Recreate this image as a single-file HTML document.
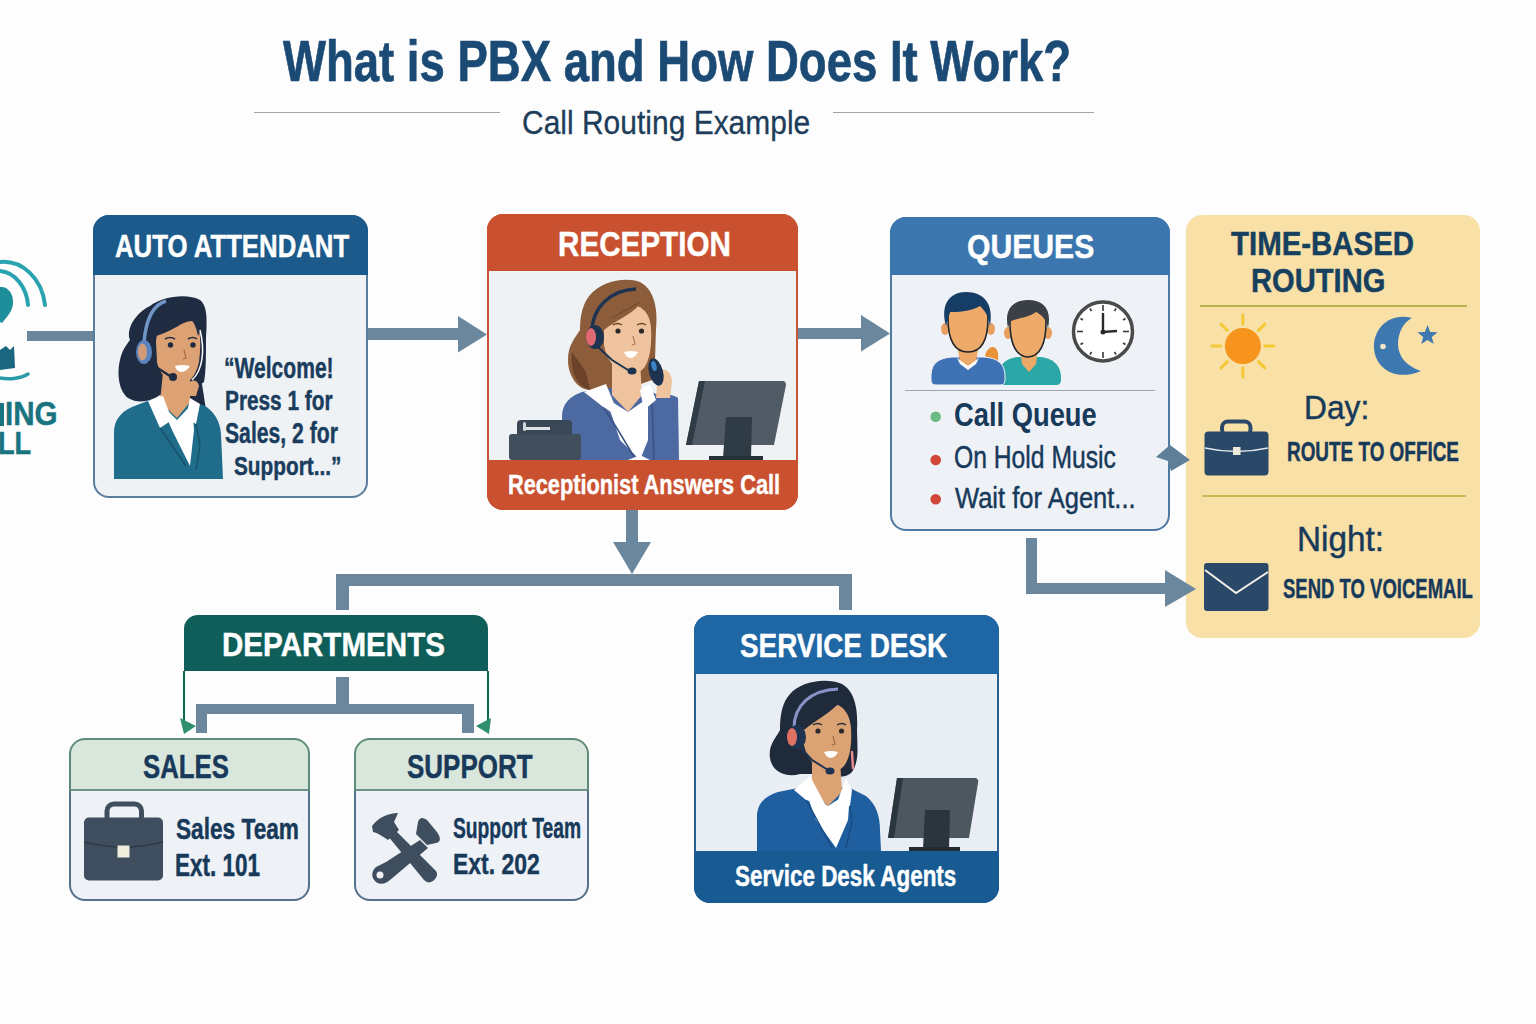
<!DOCTYPE html>
<html><head><meta charset="utf-8"><style>
html,body{margin:0;padding:0;}
body{width:1536px;height:1024px;background:#fdfdfd;position:relative;overflow:hidden;font-family:"Liberation Sans",sans-serif;}
.t{position:absolute;white-space:nowrap;transform-origin:0 0;font-family:"Liberation Sans",sans-serif;}
.r{position:absolute;}
.b{position:absolute;box-sizing:border-box;overflow:hidden;}
svg{position:absolute;left:0;top:0;}
</style></head><body>
<!-- rules -->
<div class="r" style="left:254px;top:111.5px;width:246px;height:1.5px;background:#9ea6ad;"></div>
<div class="r" style="left:0px;top:403px;width:3.5px;height:22.5px;background:#1a7480;"></div>
<div class="r" style="left:833px;top:111.5px;width:261px;height:1.5px;background:#9ea6ad;"></div>

<!-- connectors -->
<div class="r" style="left:27px;top:331px;width:66px;height:10px;background:#6a879d;"></div>
<div class="r" style="left:368px;top:328px;width:91px;height:12px;background:#6a879d;"></div>
<div class="r" style="left:798px;top:328px;width:64px;height:11px;background:#6a879d;"></div>
<div class="r" style="left:626px;top:510px;width:12px;height:33px;background:#6a879d;"></div>
<div class="r" style="left:336px;top:574px;width:516px;height:12px;background:#6a879d;"></div>
<div class="r" style="left:336px;top:574px;width:13px;height:36px;background:#6a879d;"></div>
<div class="r" style="left:839px;top:574px;width:13px;height:36px;background:#6a879d;"></div>
<div class="r" style="left:336px;top:677px;width:13px;height:28px;background:#6a879d;"></div>
<div class="r" style="left:196px;top:704px;width:278px;height:10px;background:#6a879d;"></div>
<div class="r" style="left:196px;top:704px;width:11px;height:29px;background:#6a879d;"></div>
<div class="r" style="left:462px;top:704px;width:12px;height:29px;background:#6a879d;"></div>
<div class="r" style="left:1026px;top:538px;width:11px;height:56px;background:#6a879d;"></div>
<div class="r" style="left:1026px;top:583px;width:141px;height:11px;background:#6a879d;"></div>

<!-- boxes -->
<div class="b" style="left:93px;top:215px;width:275px;height:283px;border-radius:16px;background:#5b7d9d;"><div class="r" style="left:2px;right:2px;top:60px;bottom:2px;background:#eff2f5;border-radius:0 0 14px 14px;"></div><div class="r" style="left:0px;right:0px;top:0px;height:60px;background:#1b5a8a;"></div></div>
<div class="b" style="left:487px;top:214px;width:311px;height:296px;border-radius:16px;background:#c4553a;"><div class="r" style="left:2px;right:2px;top:56.5px;bottom:50px;background:#eff2f4;"></div><div class="r" style="left:0px;right:0px;top:0px;height:56.5px;background:#c9512f;"></div><div class="r" style="left:0;right:0;bottom:0;height:50px;background:#c9512f"></div></div>
<div class="b" style="left:890px;top:217px;width:280px;height:314px;border-radius:16px;background:#4f7aa3;"><div class="r" style="left:2px;right:2px;top:57.5px;bottom:2px;background:#eef2f6;border-radius:0 0 14px 14px;"></div><div class="r" style="left:0px;right:0px;top:0px;height:57.5px;background:#3b77ae;"></div></div>
<div class="b" style="left:1186px;top:215px;width:294px;height:423px;border-radius:16px;background:#f8e0a7;"></div>
<div class="b" style="left:184px;top:615px;width:304px;height:56px;border-radius:14px;background:#0f5e5a;border-bottom-left-radius:0;border-bottom-right-radius:0;"></div>
<div class="r" style="left:183px;top:671px;width:2px;height:51px;background:#0f6a55;"></div>
<div class="r" style="left:487px;top:671px;width:2px;height:51px;background:#0f6a55;"></div>
<div class="b" style="left:694px;top:615px;width:305px;height:288px;border-radius:16px;background:#2a5f8f;"><div class="r" style="left:2px;right:2px;top:58.5px;bottom:52px;background:#e9eef4;"></div><div class="r" style="left:0px;right:0px;top:0px;height:58.5px;background:#1f66a4;"></div><div class="r" style="left:0;right:0;bottom:0;height:52px;background:#185b92"></div></div>
<div class="b" style="left:69px;top:738px;width:241px;height:163px;border-radius:16px;background:linear-gradient(#5f8a78 0 53px,#55708a 53px);"><div class="r" style="left:2px;right:2px;top:52.5px;bottom:2px;background:#eef2f6;border-radius:0 0 14px 14px;"></div><div class="r" style="left:2px;right:2px;top:2px;height:50.5px;background:#d9e6dc;border-bottom:2px solid #6d9383;box-sizing:border-box;border-radius:14px 14px 0 0;"></div></div>
<div class="b" style="left:354px;top:738px;width:235px;height:163px;border-radius:16px;background:linear-gradient(#5f8a78 0 53px,#55708a 53px);"><div class="r" style="left:2px;right:2px;top:52.5px;bottom:2px;background:#eef2f6;border-radius:0 0 14px 14px;"></div><div class="r" style="left:2px;right:2px;top:2px;height:50.5px;background:#d9e6dc;border-bottom:2px solid #6d9383;box-sizing:border-box;border-radius:14px 14px 0 0;"></div></div>

<div class="r" style="left:905px;top:389.5px;width:250px;height:1.5px;background:#9aa7b3;"></div>
<div class="r" style="left:1199.5px;top:304.5px;width:267.0px;height:2.0px;background:#b9b34a;"></div>
<div class="r" style="left:1201.5px;top:495px;width:264.0px;height:2px;background:#c4bd55;"></div>
<svg width="1536" height="1024" viewBox="0 0 1536 1024">
<polygon points="458,316 487,334.5 458,352.5" fill="#6a879d"/>
<polygon points="861,315 890,333.5 861,351.5" fill="#6a879d"/>
<polygon points="613,542 651,542 632,574" fill="#6a879d"/>
<polygon points="1165,570 1196,589 1165,607" fill="#6a879d"/>
<polygon points="1156,457 1170,445 1190,460 1171,471 1168,461" fill="#5f7f98"/>
<circle cx="935.7" cy="416.7" r="5.3" fill="#6dbb85"/>
<circle cx="935.7" cy="460" r="5.3" fill="#d0473a"/>
<circle cx="935.7" cy="499.3" r="5.3" fill="#d0473a"/>
<polygon points="180,718 196,726 184,734" fill="#2e8f6e"/>
<polygon points="491,718 476,726 489,734" fill="#2e8f6e"/>

<g id="w1">
<!-- hair back -->
<path d="M150,306 C162,296 188,293 200,300 C208,306 207,322 206,340 C206,356 206,372 204,382 L190,392 L160,395 C150,402 138,404 128,398 C118,390 117,372 120,360 C122,350 127,344 130,340 C126,330 134,314 150,306 Z" fill="#1e2b40"/>
<!-- phone hand / sleeve right -->
<path d="M186,388 C190,380 198,378 202,384 L206,410 L188,412 Z" fill="#1e2b40"/>
<path d="M188,384 C192,378 198,380 199,386 L196,396 L189,396 Z" fill="#dca273"/>
<!-- jacket -->
<path d="M114,479 L114,432 C114,420 121,412 132,407 L150,400 L186,401 L203,405 C213,410 220,420 221,434 L223,479 Z" fill="#1f6d8b"/>
<!-- neck -->
<path d="M163,372 L190,372 L190,402 L177,418 L160,402 Z" fill="#dca273"/>
<!-- shirt -->
<path d="M161,404 L177,420 L192,404 L194,430 L190,466 L172,430 Z" fill="#ffffff"/>
<!-- collars -->
<path d="M148,401 L163,396 L172,420 L160,428 Z" fill="#ffffff"/>
<path d="M190,398 L200,404 L196,424 L186,418 Z" fill="#ffffff"/>
<!-- lapel lines -->
<path d="M160,428 L175,450 L186,466" stroke="#17526b" stroke-width="1.5" fill="none"/>
<path d="M196,424 L200,445 L196,470" stroke="#17526b" stroke-width="1.5" fill="none"/>
<!-- face -->
<path d="M156,342 C156,332 162,328 170,327 C180,326 190,318 196,322 C201,328 201,348 199,362 C196,376 189,384 180,384 C168,384 159,373 157,362 Z" fill="#dca273"/>
<!-- bangs -->
<path d="M152,330 C158,312 176,304 192,306 C200,308 203,316 202,326 L198,336 C196,326 193,320 189,318 C180,326 168,332 156,336 Z" fill="#1e2b40"/>
<!-- eyes -->
<circle cx="170.5" cy="345" r="2.7" fill="#1e2b40"/>
<circle cx="193" cy="345" r="2.7" fill="#1e2b40"/>
<path d="M165,339 Q170,336 175,339" stroke="#1e2b40" stroke-width="1.5" fill="none"/>
<path d="M188,339 Q193,336 197,339" stroke="#1e2b40" stroke-width="1.5" fill="none"/>
<path d="M184,350 L186,358 L183,359" stroke="#a86a40" stroke-width="1.2" fill="none"/>
<path d="M175,366 Q182,364 190,366 Q186,372 181,372 Q176,371 175,366 Z" fill="#ffffff"/>
<!-- headset -->
<path d="M144,342 C146,320 152,305 166,301" stroke="#6f96c6" stroke-width="3.5" fill="none"/>
<ellipse cx="144" cy="352" rx="8" ry="12" fill="#5a84bd"/>
<ellipse cx="142.5" cy="352" rx="4.5" ry="8.5" fill="#d19a78"/>
<path d="M148,362 L170,376" stroke="#1e2b40" stroke-width="2.5" fill="none"/>
<circle cx="173" cy="377" r="4" fill="#1e2b40"/>
<path d="M200,330 C205,350 203,370 192,380" stroke="#ffffff" stroke-width="1.5" fill="none"/>
</g>
<g id="w2">
<!-- hair back -->
<path d="M590,295 C600,282 625,276 640,282 C655,290 658,310 656,330 C655,350 656,365 652,380 L630,388 L590,390 C578,390 568,376 568,360 C568,345 575,338 580,330 C580,315 583,303 590,295 Z" fill="#8d5d3b"/>
<path d="M572,352 C570,370 576,386 590,390 L586,372 Z" fill="#6b4229"/>
<!-- jacket -->
<path d="M562,460 L562,416 C562,404 570,396 582,392 L606,388 L648,390 L660,396 L664,460 Z" fill="#4c6aa1"/>
<!-- raised arm sleeve -->
<path d="M650,396 C658,392 672,394 678,398 L679,460 L652,460 Z" fill="#4c6aa1"/>
<path d="M652,400 L654,460" stroke="#3a5283" stroke-width="1.5"/>
<!-- neck -->
<path d="M612,362 L640,362 L642,395 L628,412 L612,395 Z" fill="#eec39d"/>
<!-- shirt -->
<path d="M606,398 L628,412 L648,398 L648,440 L640,460 L620,440 Z" fill="#ffffff"/>
<path d="M584,392 L606,384 L620,418 L602,406 Z" fill="#ffffff"/>
<path d="M640,390 L650,384 L656,400 L644,410 Z" fill="#ffffff"/>
<path d="M604,408 L618,430 L636,460" stroke="#3a5283" stroke-width="1.5" fill="none"/>
<path d="M628,460 L640,455 L650,460 Z" fill="#ffffff"/>
<!-- hand -->
<path d="M658,372 C664,366 672,372 672,382 L670,398 L656,398 Z" fill="#eec39d"/>
<!-- face -->
<path d="M604,330 C604,316 612,308 624,306 C640,302 650,312 651,328 C652,345 650,360 644,368 C638,374 632,375 626,373 C614,370 606,358 604,345 Z" fill="#eec39d"/>
<!-- bangs -->
<path d="M598,322 C604,296 626,284 646,292 C654,298 656,310 652,322 C648,312 644,306 640,304 C630,316 616,320 604,330 Z" fill="#8d5d3b"/>
<path d="M612,318 C622,312 634,306 640,302" stroke="#6b4229" stroke-width="1" fill="none"/>
<!-- eyes -->
<circle cx="618" cy="331" r="2.6" fill="#2a2a2a"/>
<circle cx="641.5" cy="331" r="2.6" fill="#2a2a2a"/>
<path d="M613,325 Q618,322 622,325" stroke="#6b4229" stroke-width="1.3" fill="none"/>
<path d="M637,325 Q642,322 646,325" stroke="#6b4229" stroke-width="1.3" fill="none"/>
<path d="M633,336 L635,344 L632,345" stroke="#b57d55" stroke-width="1.2" fill="none"/>
<path d="M624,352 Q631,350 638,352 Q635,358 630,358 Q626,357 624,352 Z" fill="#ffffff"/>
<!-- headset -->
<path d="M592,332 C592,308 610,290 636,289" stroke="#1d3350" stroke-width="3.5" fill="none"/>
<ellipse cx="595" cy="337" rx="9" ry="12" fill="#1d3350"/>
<ellipse cx="591" cy="337" rx="5" ry="9" fill="#e06a74"/>
<path d="M598,347 L612,360 L628,370" stroke="#1d3350" stroke-width="2" fill="none"/>
<ellipse cx="632" cy="371" rx="4.5" ry="3.5" fill="#1d3350"/>
<!-- handset -->
<ellipse cx="656" cy="372" rx="7" ry="14" transform="rotate(-15 656 372)" fill="#1d3350"/>
<ellipse cx="654" cy="366" rx="2.5" ry="5" transform="rotate(-15 654 366)" fill="#3c86c8"/>
<!-- desk phone -->
<rect x="517" y="420" width="55" height="18" rx="4" fill="#3a4754"/>
<rect x="525" y="427" width="25" height="3" fill="#dfe4e8"/>
<rect x="523" y="422" width="3" height="9" rx="1.5" fill="#cfd6dc"/>
<rect x="509" y="434" width="72" height="26" rx="3" fill="#414f5c"/>
<!-- monitor -->
<path d="M699,381 L783,381 C785,381 786,383 786,385 L774,445 L686,445 Z" fill="#505b65"/>
<path d="M699,381 L705,381 L692,445 L686,445 Z" fill="#2f3b45"/>
<path d="M726,417 L752,417 L751,458 L723,458 Z" fill="#2f3b45"/>
<rect x="709" y="456" width="54" height="4" fill="#26313a"/>
</g>
<g id="w3">
<!-- hair -->
<path d="M790,694 C800,682 825,677 842,684 C856,692 858,712 857,730 C857,745 860,760 852,772 C846,778 836,778 826,774 L800,774 C786,778 772,772 770,758 C768,745 776,738 780,730 C780,715 782,703 790,694 Z" fill="#1f2b3b"/>
<!-- jacket -->
<path d="M757,851 L757,815 C758,802 766,796 778,792 L808,786 L850,788 L866,796 C876,804 880,816 880,830 L881,851 Z" fill="#1f5fa0"/>
<!-- neck -->
<path d="M812,760 L840,760 L842,792 L828,806 L812,792 Z" fill="#dba274"/>
<!-- shirt -->
<path d="M806,792 L828,806 L850,792 L848,820 L836,848 L816,820 Z" fill="#ffffff"/>
<path d="M794,790 L810,776 L826,806 L806,800 Z" fill="#ffffff"/>
<path d="M838,800 L846,778 L852,790 L850,806 Z" fill="#ffffff"/>
<path d="M806,800 L816,818 L832,848" stroke="#194d85" stroke-width="1.5" fill="none"/>
<path d="M850,806 L852,822 L846,848" stroke="#194d85" stroke-width="1.5" fill="none"/>
<!-- face -->
<path d="M803,728 C803,714 812,707 824,704 C840,700 850,712 851,728 C852,745 850,758 844,766 C838,772 832,773 826,771 C814,768 806,756 804,745 Z" fill="#dba274"/>
<path d="M798,720 C804,696 826,684 846,692 C854,698 856,712 852,724 C849,712 846,704 842,700 C832,712 816,720 804,730 Z" fill="#1f2b3b"/>
<!-- eyes -->
<circle cx="818" cy="731" r="2.6" fill="#2a2a2a"/>
<circle cx="841.5" cy="731" r="2.6" fill="#2a2a2a"/>
<path d="M813,725 Q818,722 822,725" stroke="#1f2b3b" stroke-width="1.3" fill="none"/>
<path d="M837,725 Q842,722 846,725" stroke="#1f2b3b" stroke-width="1.3" fill="none"/>
<path d="M833,736 L835,744 L832,745" stroke="#a86a40" stroke-width="1.2" fill="none"/>
<path d="M824,752 Q831,750 838,752 Q835,758 830,758 Q826,757 824,752 Z" fill="#ffffff"/>
<!-- headset -->
<path d="M794,728 C794,706 810,690 838,689" stroke="#8b92c9" stroke-width="3" fill="none"/>
<ellipse cx="797" cy="737" rx="9" ry="12" fill="#1d3350"/>
<ellipse cx="792" cy="737" rx="5" ry="9" fill="#e07262"/>
<path d="M800,747 L812,760 L828,770" stroke="#1d3350" stroke-width="2" fill="none"/>
<ellipse cx="830" cy="771" rx="4.5" ry="3.5" fill="#1d3350"/>
<path d="M852,752 L853,768" stroke="#e88a90" stroke-width="2.5" stroke-linecap="round"/>
<!-- monitor -->
<path d="M897,778 L975,778 C977,778 979,780 978,783 L969,838 L888,838 Z" fill="#4d575f"/>
<path d="M897,778 L903,778 L894,838 L888,838 Z" fill="#2b353d"/>
<path d="M925,810 L950,810 L949,849 L923,849 Z" fill="#2b353d"/>
<rect x="909" y="847" width="51" height="4" fill="#232c33"/>
</g>
<g id="q">
<!-- person 2 (behind) -->
<path d="M1003,385 Q999,385 999,380 L999,374 C1000,362 1008,358 1018,357 L1040,357 C1052,358 1060,364 1061,376 L1061,380 Q1061,385 1056,385 Z" fill="#2aa7a6"/>
<path d="M1020,350 L1038,350 L1036,364 L1029,372 L1022,364 Z" fill="#eba866"/>
<ellipse cx="1008" cy="333" rx="4" ry="6" fill="#e8a060"/>
<ellipse cx="1048" cy="333" rx="4" ry="6" fill="#e8a060"/>
<path d="M1010,322 C1010,340 1014,356 1028,357 C1042,356 1046,340 1046,322 C1046,312 1040,306 1028,306 C1016,306 1010,312 1010,322 Z" fill="#eeaa68" stroke="#1f262c" stroke-width="1.6"/>
<path d="M1008,328 C1004,310 1012,300 1028,300 C1044,300 1052,310 1048,328 C1046,318 1040,314 1036,312 C1028,318 1016,318 1010,322 Z" fill="#3b4046"/>
<!-- orange small shape -->
<path d="M985,355 C990,342 1000,346 998,360 L990,370 Z" fill="#e8923a"/>
<!-- person 1 -->
<path d="M936,385 Q931,385 931,380 L931,374 C932,362 940,358 952,357 L984,357 C998,358 1005,364 1005,376 L1005,380 Q1005,385 1000,385 Z" fill="#3f72b5" stroke="#eef2f6" stroke-width="1"/>
<path d="M958,350 L978,350 L976,362 L968,368 L960,362 Z" fill="#eba866"/>
<path d="M957,358 L968,366 L979,358 L976,364 L968,370 L960,364 Z" fill="#ffffff"/>
<ellipse cx="945" cy="329" rx="4" ry="6" fill="#e8a060"/>
<ellipse cx="991" cy="329" rx="4" ry="6" fill="#e8a060"/>
<path d="M948,318 C948,336 952,352 968,352 C984,352 988,336 988,318 C988,306 980,300 968,300 C956,300 948,306 948,318 Z" fill="#eeaa68" stroke="#1f262c" stroke-width="1.6"/>
<path d="M946,326 C940,304 950,292 966,292 C984,292 994,304 990,326 C988,314 984,310 980,306 C970,312 956,312 950,312 Z" fill="#153d66"/>
<!-- clock -->
<circle cx="1103" cy="331.5" r="29.5" fill="#ffffff" stroke="#4a4a4a" stroke-width="3.5"/>
<g stroke="#3a3a3a" stroke-width="1.6">
<line x1="1103" y1="305" x2="1103" y2="311"/><line x1="1103" y1="352" x2="1103" y2="358"/>
<line x1="1077" y1="331.5" x2="1083" y2="331.5"/><line x1="1123" y1="331.5" x2="1129" y2="331.5"/>
<line x1="1116" y1="308.5" x2="1114.5" y2="311"/><line x1="1125.5" y1="318.5" x2="1123" y2="320"/>
<line x1="1125.5" y1="344.5" x2="1123" y2="343"/><line x1="1116" y1="354.5" x2="1114.5" y2="352"/>
<line x1="1090" y1="354.5" x2="1091.5" y2="352"/><line x1="1080.5" y1="344.5" x2="1083" y2="343"/>
<line x1="1080.5" y1="318.5" x2="1083" y2="320"/><line x1="1090" y1="308.5" x2="1091.5" y2="311"/>
</g>
<path d="M1103,313 L1103,332 L1117,331" stroke="#2a2a2a" stroke-width="2.4" fill="none"/>
<circle cx="1103" cy="332" r="2.5" fill="#2a2a2a"/>
</g>
<g id="ti">
<line x1="1264.9" y1="346.0" x2="1273.9" y2="346.0" stroke="#f3c935" stroke-width="3" stroke-linecap="round"/><line x1="1258.5" y1="361.6" x2="1264.8" y2="367.9" stroke="#f3c935" stroke-width="3" stroke-linecap="round"/><line x1="1242.9" y1="368.0" x2="1242.9" y2="377.0" stroke="#f3c935" stroke-width="3" stroke-linecap="round"/><line x1="1227.3" y1="361.6" x2="1221.0" y2="367.9" stroke="#f3c935" stroke-width="3" stroke-linecap="round"/><line x1="1220.9" y1="346.0" x2="1211.9" y2="346.0" stroke="#f3c935" stroke-width="3" stroke-linecap="round"/><line x1="1227.3" y1="330.4" x2="1221.0" y2="324.1" stroke="#f3c935" stroke-width="3" stroke-linecap="round"/><line x1="1242.9" y1="324.0" x2="1242.9" y2="315.0" stroke="#f3c935" stroke-width="3" stroke-linecap="round"/><line x1="1258.5" y1="330.4" x2="1264.8" y2="324.1" stroke="#f3c935" stroke-width="3" stroke-linecap="round"/>
<circle cx="1242.9" cy="346" r="18" fill="#f7941d"/>
<path d="M1412,318 C1390,312 1373,328 1374,348 C1375,368 1395,382 1421,371 C1406,366 1398,356 1398,344 C1398,332 1404,322 1412,318 Z" fill="#3d78b0"/>
<circle cx="1383" cy="346.5" r="2.8" fill="#f3e6c6"/>
<polygon points="1427.5,325.0 1430.1,331.9 1437.5,332.3 1431.8,336.9 1433.7,344.0 1427.5,340.0 1421.3,344.0 1423.2,336.9 1417.5,332.3 1424.9,331.9" fill="#3d78b0"/>
<!-- day briefcase -->
<rect x="1222" y="421.5" width="28.5" height="14" rx="6" fill="none" stroke="#2a4868" stroke-width="4"/>
<rect x="1204.5" y="431.5" width="64" height="44" rx="4" fill="#2a4868"/>
<path d="M1205,448 Q1236.5,455 1268,448" stroke="#dfe6ee" stroke-width="1.3" fill="none"/>
<rect x="1233" y="447" width="7.5" height="8" fill="#eeeadb"/>
<!-- envelope -->
<rect x="1204" y="563" width="64.5" height="48" rx="3" fill="#2a4868"/>
<path d="M1205,570 L1236,593 L1268,572" stroke="#f5f0e6" stroke-width="2" fill="none"/>
</g>
<g id="di">
<rect x="107" y="804" width="34.5" height="20" rx="7" fill="none" stroke="#3e4e5e" stroke-width="5"/>
<rect x="84" y="817.5" width="79" height="63" rx="5" fill="#3e4e5e"/>
<path d="M84,842 Q123.5,852 163,842" stroke="#2d3a47" stroke-width="1.5" fill="none"/>
<rect x="117.5" y="845.5" width="12" height="12" fill="#efeedc"/>
<!-- tools -->
<path d="M383,830 L389,824 L436,871 C438,874 437,878 433,881 C430,883 427,883 424,880 Z" fill="#3e4e5e"/>
<path d="M372,826 C378,818 388,813 398,813 L394,822 L399,830 L388,840 C382,836 378,833 373,832 Z" fill="#3e4e5e"/>
<path d="M420,840 L428,848 L390,880 C386,884 380,885 376,882 C371,878 371,871 376,867 L386,862 Z" fill="#3e4e5e"/>
<path d="M418,822 C420,816 424,818 427,820 L437,832 C441,838 441,842 436,843 L427,845 L416,834 Z" fill="#3e4e5e"/>
<circle cx="380" cy="875" r="3.5" fill="#eef2f6"/>
</g>
<g id="inc">
<path d="M0,262 C22,260 42,278 45,305" stroke="#2aa3b0" stroke-width="4" fill="none" stroke-linecap="round"/>
<path d="M0,271 C15,272 27,288 28,305" stroke="#2aa3b0" stroke-width="4" fill="none" stroke-linecap="round"/>
<path d="M0,287 C8,286 14,294 13,304 C12,312 6,318 2,323 L0,322 Z" fill="#1d8f9b"/>
<path d="M0,350 L6,346 L10,350 L14,346 L15,368 L0,370 Z" fill="#1b6780"/>
<path d="M0,378 C10,380 22,378 28,374" stroke="#2a9aa8" stroke-width="3.5" fill="none" stroke-linecap="round"/>
</g>
</svg>
<div class="t" style="left:282.5px;top:32.6px;font-size:57.25px;line-height:57.25px;font-weight:700;color:#1b4b75;-webkit-text-stroke:0.7px #1b4b75;transform:scaleX(0.795)">What is PBX and How Does It Work?</div>
<div class="t" style="left:521.7px;top:105.8px;font-size:33.62px;line-height:33.62px;font-weight:400;color:#1d3d5a;-webkit-text-stroke:0.3px #1d3d5a;transform:scaleX(0.892)">Call Routing Example</div>
<div class="t" style="left:5.3px;top:397.9px;font-size:32.61px;line-height:32.61px;font-weight:700;color:#1a7480;-webkit-text-stroke:0.45px #1a7480;transform:scaleX(0.907)">ING</div>
<div class="t" style="left:-2.4px;top:428.1px;font-size:31.30px;line-height:31.30px;font-weight:700;color:#1a7480;-webkit-text-stroke:0.45px #1a7480;transform:scaleX(0.869)">LL</div>
<div class="t" style="left:114.9px;top:231.3px;font-size:31.30px;line-height:31.30px;font-weight:700;color:#ffffff;-webkit-text-stroke:0.45px #ffffff;transform:scaleX(0.823)">AUTO ATTENDANT</div>
<div class="t" style="left:557.9px;top:227.3px;font-size:34.20px;line-height:34.20px;font-weight:700;color:#ffffff;-webkit-text-stroke:0.45px #ffffff;transform:scaleX(0.867)">RECEPTION</div>
<div class="t" style="left:967.0px;top:229.5px;font-size:33.19px;line-height:33.19px;font-weight:700;color:#ffffff;-webkit-text-stroke:0.45px #ffffff;transform:scaleX(0.909)">QUEUES</div>
<div class="t" style="left:1230.7px;top:227.1px;font-size:33.04px;line-height:33.04px;font-weight:700;color:#17405f;-webkit-text-stroke:0.45px #17405f;transform:scaleX(0.891)">TIME-BASED</div>
<div class="t" style="left:1250.7px;top:264.9px;font-size:32.90px;line-height:32.90px;font-weight:700;color:#17405f;-webkit-text-stroke:0.45px #17405f;transform:scaleX(0.886)">ROUTING</div>
<div class="t" style="left:222.4px;top:627.8px;font-size:33.48px;line-height:33.48px;font-weight:700;color:#ffffff;-webkit-text-stroke:0.45px #ffffff;transform:scaleX(0.884)">DEPARTMENTS</div>
<div class="t" style="left:739.7px;top:627.9px;font-size:34.06px;line-height:34.06px;font-weight:700;color:#ffffff;-webkit-text-stroke:0.45px #ffffff;transform:scaleX(0.819)">SERVICE DESK</div>
<div class="t" style="left:143.4px;top:751.0px;font-size:32.46px;line-height:32.46px;font-weight:700;color:#18395a;-webkit-text-stroke:0.45px #18395a;transform:scaleX(0.794)">SALES</div>
<div class="t" style="left:406.7px;top:751.0px;font-size:32.46px;line-height:32.46px;font-weight:700;color:#18395a;-webkit-text-stroke:0.45px #18395a;transform:scaleX(0.800)">SUPPORT</div>
<div class="t" style="left:224.4px;top:354.4px;font-size:29.13px;line-height:29.13px;font-weight:700;color:#1a3d5e;-webkit-text-stroke:0.45px #1a3d5e;transform:scaleX(0.723)">“Welcome!</div>
<div class="t" style="left:224.6px;top:387.4px;font-size:27.68px;line-height:27.68px;font-weight:700;color:#1a3d5e;-webkit-text-stroke:0.45px #1a3d5e;transform:scaleX(0.752)">Press 1 for</div>
<div class="t" style="left:225.4px;top:419.3px;font-size:28.84px;line-height:28.84px;font-weight:700;color:#1a3d5e;-webkit-text-stroke:0.45px #1a3d5e;transform:scaleX(0.734)">Sales, 2 for</div>
<div class="t" style="left:234.2px;top:454.0px;font-size:25.80px;line-height:25.80px;font-weight:700;color:#1a3d5e;-webkit-text-stroke:0.45px #1a3d5e;transform:scaleX(0.806)">Support...”</div>
<div class="t" style="left:508.4px;top:471.0px;font-size:28.12px;line-height:28.12px;font-weight:700;color:#ffffff;-webkit-text-stroke:0.45px #ffffff;transform:scaleX(0.773)">Receptionist Answers Call</div>
<div class="t" style="left:954.1px;top:398.3px;font-size:33.62px;line-height:33.62px;font-weight:700;color:#17395a;-webkit-text-stroke:0px #17395a;transform:scaleX(0.813)">Call Queue</div>
<div class="t" style="left:954.1px;top:442.9px;font-size:30.87px;line-height:30.87px;font-weight:400;color:#17395a;-webkit-text-stroke:0.45px #17395a;transform:scaleX(0.800)">On Hold Music</div>
<div class="t" style="left:955.1px;top:483.4px;font-size:29.42px;line-height:29.42px;font-weight:400;color:#17395a;-webkit-text-stroke:0.45px #17395a;transform:scaleX(0.868)">Wait for Agent...</div>
<div class="t" style="left:1303.5px;top:391.1px;font-size:33.91px;line-height:33.91px;font-weight:400;color:#17395a;-webkit-text-stroke:0.45px #17395a;transform:scaleX(0.935)">Day:</div>
<div class="t" style="left:1287.3px;top:437.9px;font-size:27.25px;line-height:27.25px;font-weight:700;color:#17395a;-webkit-text-stroke:0.45px #17395a;transform:scaleX(0.694)">ROUTE TO OFFICE</div>
<div class="t" style="left:1297.0px;top:522.2px;font-size:35.65px;line-height:35.65px;font-weight:400;color:#17395a;-webkit-text-stroke:0.45px #17395a;transform:scaleX(0.935)">Night:</div>
<div class="t" style="left:1283.2px;top:575.0px;font-size:27.25px;line-height:27.25px;font-weight:700;color:#17395a;-webkit-text-stroke:0.45px #17395a;transform:scaleX(0.679)">SEND TO VOICEMAIL</div>
<div class="t" style="left:175.6px;top:813.7px;font-size:30.14px;line-height:30.14px;font-weight:700;color:#17395a;-webkit-text-stroke:0.45px #17395a;transform:scaleX(0.752)">Sales Team</div>
<div class="t" style="left:175.2px;top:849.7px;font-size:30.58px;line-height:30.58px;font-weight:700;color:#17395a;-webkit-text-stroke:0.45px #17395a;transform:scaleX(0.736)">Ext. 101</div>
<div class="t" style="left:453.1px;top:813.1px;font-size:29.28px;line-height:29.28px;font-weight:700;color:#17395a;-webkit-text-stroke:0.45px #17395a;transform:scaleX(0.658)">Support Team</div>
<div class="t" style="left:452.9px;top:849.2px;font-size:30.00px;line-height:30.00px;font-weight:700;color:#17395a;-webkit-text-stroke:0.45px #17395a;transform:scaleX(0.764)">Ext. 202</div>
<div class="t" style="left:734.8px;top:861.0px;font-size:29.86px;line-height:29.86px;font-weight:700;color:#ffffff;-webkit-text-stroke:0.45px #ffffff;transform:scaleX(0.752)">Service Desk Agents</div>
</body></html>
